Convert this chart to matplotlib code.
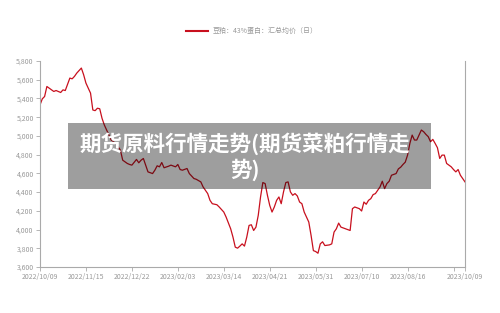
import matplotlib
matplotlib.use('Agg')
import matplotlib.pyplot as plt
from matplotlib.patches import Rectangle

plt.rcParams['font.family'] = ['Noto Sans CJK SC', 'DejaVu Sans']

# trading-day index and price (元/吨)
days = [0, 1, 2, 3, 5, 6, 7, 9, 10, 11, 13, 14, 15, 16, 18, 19, 20, 22, 23, 24,
        25, 26, 27, 28, 30, 31, 33, 35, 36, 38, 39, 40, 42, 43, 44, 45, 46, 47,
        49, 50, 51, 52, 53, 54, 56, 57, 59, 60, 61, 62, 64, 65, 67, 68, 70, 71,
        73, 74, 75, 77, 78, 80, 81, 83, 84, 85, 86, 87, 88, 89, 90, 91, 92, 93,
        94, 95, 96, 97, 98, 99, 100, 101, 102, 103, 104, 105, 106, 107, 108,
        109, 110, 111, 112, 113, 114, 115, 117, 118, 119, 120, 121, 122, 123,
        124, 126, 127, 128, 129, 130, 131, 133, 135, 136, 137, 139, 140, 141,
        142, 143, 144, 145, 146, 147, 148, 149, 150, 151, 152, 153, 155, 156,
        157, 158, 159, 160, 161, 162, 163, 164, 165, 166, 167, 168, 169, 170,
        171, 172, 173, 174, 175, 176, 177, 179, 180, 181, 182, 183, 184, 185]
prices = [5331, 5396, 5421, 5528, 5492, 5475, 5485, 5464, 5492, 5485, 5618,
          5610, 5636, 5671, 5725, 5653, 5564, 5457, 5277, 5270, 5296, 5290,
          5188, 5117, 5009, 4956, 4920, 4848, 4741, 4706, 4695, 4688, 4749,
          4713, 4741, 4759, 4688, 4616, 4598, 4634, 4681, 4670, 4716, 4660,
          4677, 4688, 4670, 4695, 4641, 4634, 4652, 4598, 4545, 4537, 4509,
          4455, 4384, 4312, 4276, 4265, 4241, 4187, 4134, 4008, 3919, 3812,
          3801, 3823, 3847, 3823, 3919, 4044, 4051, 3990, 4026, 4151, 4348,
          4502, 4491, 4366, 4258, 4187, 4241, 4312, 4348, 4276, 4402, 4502,
          4509, 4402, 4366, 4384, 4359, 4294, 4276, 4187, 4080, 3937, 3775,
          3765, 3747, 3847, 3869, 3829, 3836, 3847, 3973, 4008, 4069, 4026,
          4008, 3990, 4223, 4241, 4223, 4198, 4294, 4270, 4312, 4330, 4373,
          4384, 4419, 4455, 4516, 4437, 4491, 4516, 4580, 4598, 4648, 4666,
          4695, 4720, 4795, 4920, 5009, 4956, 4956, 5009, 5063, 5045, 5016,
          4992, 4938, 4963, 4920, 4874, 4759, 4795, 4795, 4706, 4670, 4641,
          4616, 4641, 4580, 4545, 4509]

tick_days = [0, 20, 40, 60, 80, 100, 120, 140, 160, 180, 185]
tick_labels = ['2022/10/09', '2022/11/15', '2022/12/22', '2023/02/03',
               '2023/03/14', '2023/04/21', '2023/05/31', '2023/07/10',
               '2023/08/16', '', '2023/10/09']
y_ticks = list(range(3600, 5801, 200))

series_name = '豆粕：43%蛋白：汇总均价（日）'
overlay_title = '期货原料行情走势(期货菜粕行情走\n势)'

fig = plt.figure(figsize=(5, 3.13), dpi=100)
ax = fig.add_axes([0.08, 0.147, 0.85, 0.658])

ax.plot(days, prices, color='#c8101e', lw=0.9)

ax.set_xlim(0, 185)
ax.set_ylim(3600, 5800)
ax.set_yticks(y_ticks)
ax.set_yticklabels([f'{v:,}' for v in y_ticks])
ax.set_xticks(tick_days)
ax.set_xticklabels(tick_labels)

grey = '#999999'
ax.spines['top'].set_visible(False)
for s in ['left', 'bottom', 'right']:
    ax.spines[s].set_color('#aaaaaa')
    ax.spines[s].set_linewidth(0.8)
ax.tick_params(colors='#aaaaaa', labelcolor=grey, labelsize=5, length=3, width=0.6, pad=1.5)

# legend above the plot
fig.add_artist(plt.Line2D([0.372, 0.416], [0.901, 0.901], color='#c8101e', lw=1.5))
fig.text(0.426, 0.901, series_name, fontsize=5, color=grey, va='center')

# watermark banner over the chart
fig.add_artist(Rectangle((0.136, 0.396), 0.726, 0.211, transform=fig.transFigure,
                         facecolor='black', alpha=0.38, edgecolor='none'))
fig.text(0.49, 0.5, overlay_title, fontsize=15.5, fontweight='bold', color='white',
         ha='center', va='center', linespacing=1.2)

fig.savefig('out.png', dpi=100)
